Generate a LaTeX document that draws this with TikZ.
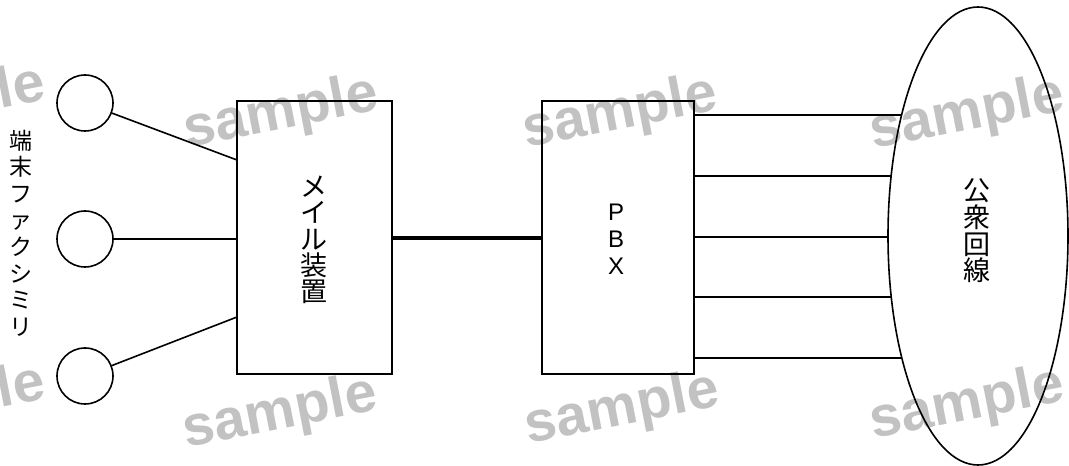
\documentclass[tikz,border=0pt]{standalone}
\usepackage{fontspec}
\setmainfont{Liberation Sans}
\newfontfamily\jpfont{Noto Sans CJK JP}
\newfontfamily\wmfont{Liberation Sans}[BoldFont={Liberation Sans Bold}]
\usetikzlibrary{shapes.geometric}
\begin{document}
\begin{tikzpicture}[x=1pt,y=1pt,
  ln/.style={line width=1.6pt, black},
  box/.style={draw, line width=1.6pt, minimum width=#1, minimum height=273pt, inner sep=0pt},
  fax/.style={draw, circle, line width=1.6pt, minimum size=56pt, inner sep=0pt},
  wm/.style={text=black!24, font=\wmfont\bfseries\fontsize{57}{57}\selectfont, rotate=11, inner sep=0pt}]
\useasboundingbox (0,0) rectangle (1069,466);
\clip (0,0) rectangle (1069,466);
% watermarks
\node[wm] (w1) at (281,352) {sample};
\node[wm] (w2) at (620,352) {sample};
\node[wm] (w3) at (967,351) {sample};
\node[wm] (w4) at (280,52) {sample};
\node[wm] (w5) at (622,56) {sample};
\node[wm] (w6) at (967,61) {sample};
\node[wm] (w7) at (-52,362) {sample};
\node[wm] (w8) at (-52,63) {sample};
% nodes
\node[fax] (c1) at (85,363) {};
\node[fax] (c2) at (85,227) {};
\node[fax] (c3) at (85,90) {};
\node[box=155pt] (mail) at (314.5,228.5) {};
\node[box=152pt] (pbx) at (618,228.5) {};
\node[draw, ellipse, line width=1.6pt, minimum width=180pt, minimum height=458pt, inner sep=0pt] (net) at (978,230) {};
% labels
\node[font=\jpfont\fontsize{23}{26.6}\selectfont, align=center, inner sep=0pt] (lbl) at (21,233) {端\\末\\フ\\ァ\\ク\\シ\\ミ\\リ};
\node[font=\jpfont\fontsize{27}{26.3}\selectfont, align=center, inner sep=0pt] (mt) at (314,226) {メ\\イ\\ル\\装\\置};
\node[font=\fontsize{24}{27}\selectfont, align=center, inner sep=0pt] (pt) at (616,227) {P\\B\\X};
\node[font=\jpfont\fontsize{27}{26.7}\selectfont, align=center, inner sep=0pt] (nt) at (977,235) {公\\衆\\回\\線};
% connection points
\coordinate (m1) at (237,306);
\coordinate (m3) at (237,149);
\coordinate (p1) at (694,351);
\coordinate (p2) at (694,290);
\coordinate (p3) at (694,229);
\coordinate (p4) at (694,169);
\coordinate (p5) at (694,108);
\coordinate (e1) at (901.6,351);
\coordinate (e2) at (891.2,290);
\coordinate (e3) at (888,229);
\coordinate (e4) at (891.2,169);
\coordinate (e5) at (901.6,108);
% connectors
\draw[ln] (c1) -- (m1);
\draw[ln] (c2) -- (mail.west |- c2);
\draw[ln] (c3) -- (m3);
\draw[line width=4pt] (mail.east |- 0,228) -- (pbx.west |- 0,228);
\draw[ln] (p1) -- (e1);
\draw[ln] (p2) -- (e2);
\draw[ln] (p3) -- (e3);
\draw[ln] (p4) -- (e4);
\draw[ln] (p5) -- (e5);
\end{tikzpicture}
\end{document}
